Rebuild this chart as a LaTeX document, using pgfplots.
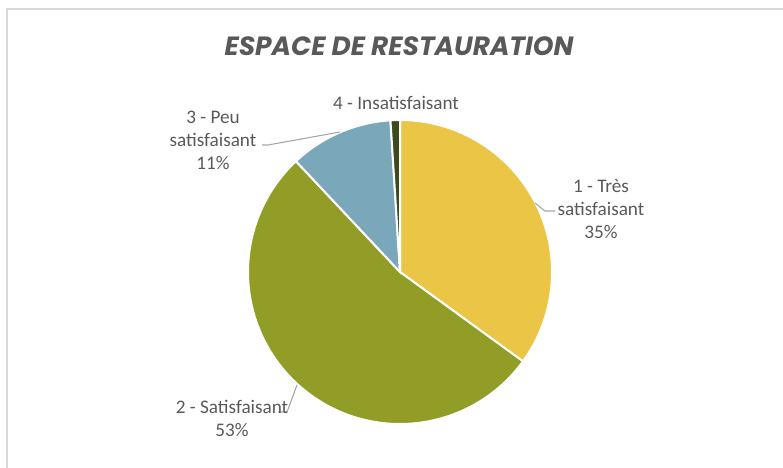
\documentclass[border=0pt]{standalone}
\usepackage{pgfplots}
\usepackage{pgfplotstable}
\pgfplotsset{compat=1.18}
\usepackage{fontspec}
\setmainfont{Carlito}
\newfontfamily\titlefont{Poppins}

\definecolor{pie0}{HTML}{EBC545}
\definecolor{pie1}{HTML}{929D27}
\definecolor{pie2}{HTML}{7BA7BA}
\definecolor{pie3}{HTML}{3D4A1F}
\definecolor{txt}{HTML}{595959}
\definecolor{lead}{HTML}{A6A6A6}
\definecolor{frameclr}{HTML}{D9D9D9}

% share of each answer, in %
\pgfplotstableread{
id value
0 35
1 53
2 11
3 1
}\piedata

\begin{document}
\begin{tikzpicture}
\begin{axis}[
  at={(0,0)}, anchor=origin,
  x=0.75pt, y=0.75pt,
  xmin=0, xmax=783, ymin=0, ymax=468,
  hide axis,
  clip=false,
]
% pie slices, clockwise from 12 o'clock
\xdef\startang{90}
\pgfplotsforeachungrouped \i in {0,...,3} {
  \pgfplotstablegetelem{\i}{value}\of\piedata
  \pgfmathsetmacro\endang{\startang - 3.6*\pgfplotsretval}
  \edef\temp{\noexpand\fill[pie\i, draw=white, line width=1.5pt]
    (axis cs:400,196) -- ++(\startang:114pt)
    arc[start angle=\startang, end angle=\endang, radius=114pt] -- cycle;}
  \temp
  \xdef\startang{\endang}
}

% leader lines
\draw[lead, line width=0.8pt] (axis cs:535,265) -- (axis cs:545,257) -- (axis cs:555,257);
\draw[lead, line width=0.8pt] (axis cs:340,336) -- (axis cs:268,323) -- (axis cs:262,323);
\draw[lead, line width=0.8pt] (axis cs:297,83) -- (axis cs:287,56) -- (axis cs:278,56);

% labels
\begin{scope}[every node/.style={text=txt, align=center, font=\fontsize{14.4}{17.3}\selectfont}]
\node at (axis cs:601,259) {1 - Très\\satisfaisant\\35\%};
\node at (axis cs:232,49.5) {2 - Satisfaisant\\53\%};
\node at (axis cs:213,328) {3 - Peu\\satisfaisant\\11\%};
\node at (axis cs:396,365) {4 - Insatisfaisant};
\end{scope}

% title
\node[text=txt, font=\titlefont\bfseries\itshape\fontsize{19.8}{22}\selectfont]
  at (axis cs:399,422) {ESPACE DE RESTAURATION};
\end{axis}
% chart frame (right and bottom edges are cut off in the reference)
\draw[frameclr, line width=1.2pt] (5.25pt,0pt) -- (5.25pt,344.25pt) -- (587.25pt,344.25pt);
\pgfresetboundingbox
\path[use as bounding box] (0pt,0pt) rectangle (587.25pt,351pt);
\end{tikzpicture}
\end{document}
